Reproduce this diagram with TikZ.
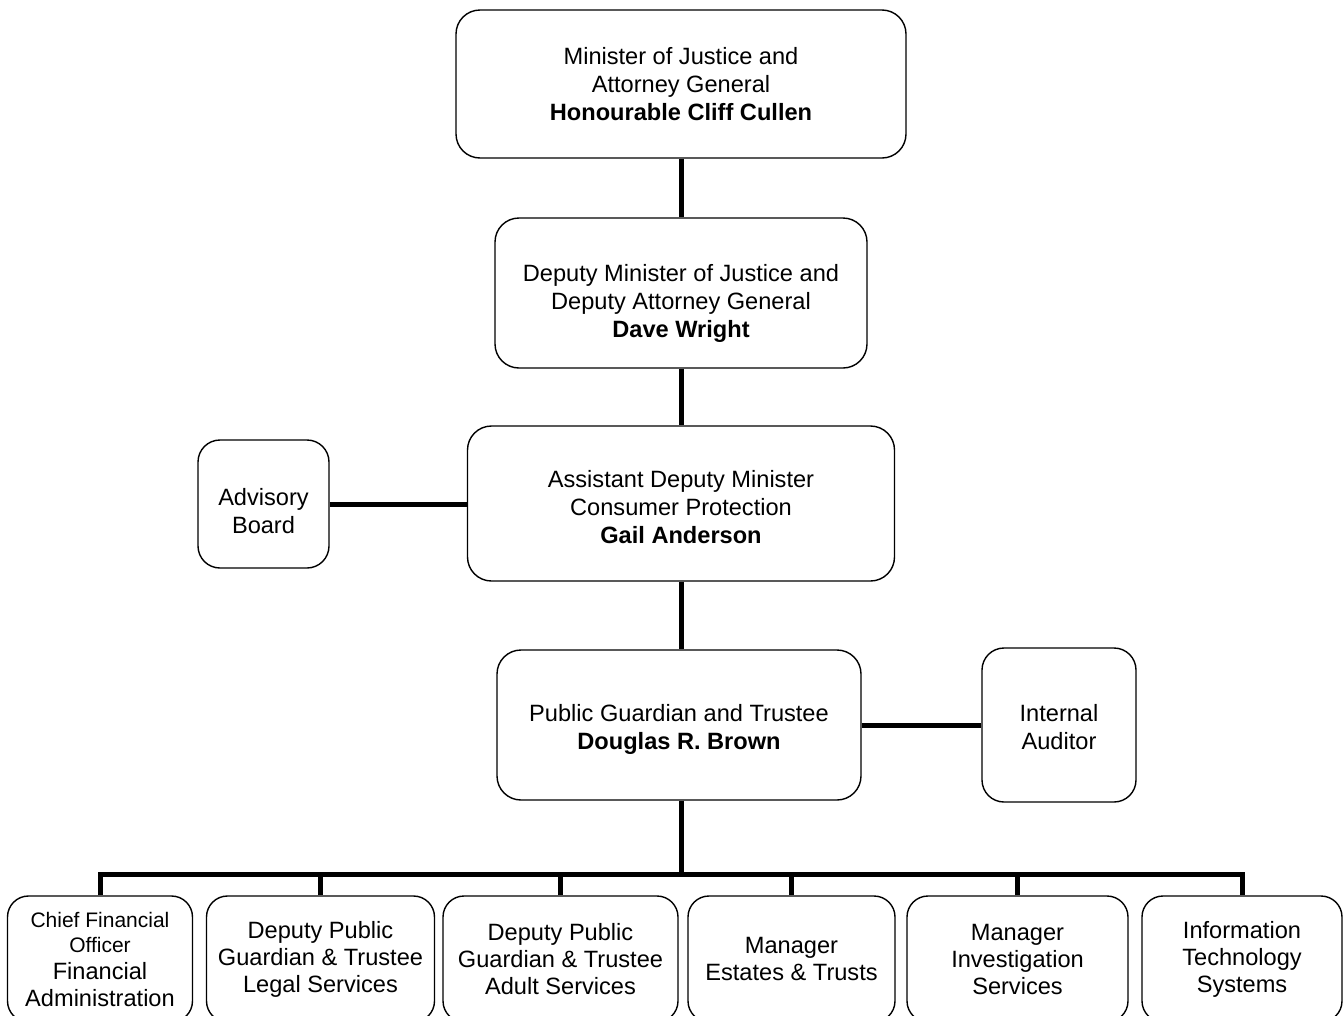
\documentclass[tikz,border=0pt]{standalone}
\usepackage{fontspec}
\setmainfont{Liberation Sans}
\newcommand\dn[1]{\rule{0pt}{#1pt}}
\begin{document}
\begin{tikzpicture}[x=1pt,y=-1pt,
  box/.style={draw, line width=1.4pt, rounded corners=24pt, align=center,
    font=\fontsize{23.6}{28}\selectfont, inner sep=0pt},
  lowbox/.style={box, rounded corners=21pt, minimum height=126pt},
  conn/.style={line width=5pt}]
\useasboundingbox (0,0) rectangle (1344,1015);
\clip (0,0) rectangle (1344,1015);
% main column
\node[box, minimum width=450pt, minimum height=148pt] (min) at (681,84)
  {Minister of Justice and\\Attorney General\\\textbf{Honourable Cliff Cullen}};
\node[box, minimum width=372pt, minimum height=150pt] (dep) at (681,293)
  {\dn{37}Deputy Minister of Justice and\\Deputy Attorney General\\\textbf{Dave Wright}};
\node[box, minimum width=427pt, minimum height=155pt] (adm) at (681,503.5)
  {\dn{25}Assistant Deputy Minister\\Consumer Protection\\\textbf{Gail Anderson}};
\node[box, rounded corners=22pt, minimum width=131pt, minimum height=128pt] (adv) at (263.5,504)
  {\dn{31}Advisory\\Board};
\node[box, minimum width=364pt, minimum height=150pt] (pgt) at (679,725)
  {\dn{25}Public Guardian and Trustee\\\textbf{Douglas R. Brown}};
\node[box, rounded corners=22pt, minimum width=154pt, minimum height=154pt] (aud) at (1059,725)
  {\dn{21}Internal\\Auditor};
% bottom row
\node[lowbox, minimum width=185pt] (b1) at (100,959)
  {{\fontsize{21}{25}\selectfont Chief Financial}\\[-3pt]{\fontsize{21}{25}\selectfont Officer}\\[-1pt]Financial\\[-1pt]Administration};
\node[lowbox, minimum width=228pt] (b2) at (320.5,959)
  {Deputy Public\\[-1pt]Guardian \& Trustee\\[-1pt]Legal Services};
\node[lowbox, minimum width=235pt] (b3) at (560.5,959)
  {Deputy Public\\[-1pt]Guardian \& Trustee\\[-1pt]Adult Services};
\node[lowbox, minimum width=207pt] (b4) at (791.5,959)
  {Manager\\[-1pt]Estates \& Trusts};
\node[lowbox, minimum width=221pt] (b5) at (1017.5,959)
  {Manager\\[-1pt]Investigation\\[-1pt]Services};
\node[lowbox, minimum width=200pt] (b6) at (1242,959)
  {Information\\[-1pt]Technology\\[-1pt]Systems};
% connectors
\coordinate (bus) at (681,874);
\draw[conn] (min.south) -- (dep.north);
\draw[conn] (dep.south) -- (adm.north);
\draw[conn] (adm.south) -- (adm.south |- pgt.north);
\draw[conn] (adv.east) -- (adm.west |- adv.east);
\draw[conn] (pgt.east |- aud.west) -- (aud.west);
\draw[conn] (adm.south |- pgt.south) -- (bus);
\draw[conn] (b1.north) -- (b1.north |- bus) -- (b6.north |- bus) -- (b6.north);
\draw[conn] (b2.north) -- (b2.north |- bus);
\draw[conn] (b3.north) -- (b3.north |- bus);
\draw[conn] (b4.north) -- (b4.north |- bus);
\draw[conn] (b5.north) -- (b5.north |- bus);
\end{tikzpicture}
\end{document}
